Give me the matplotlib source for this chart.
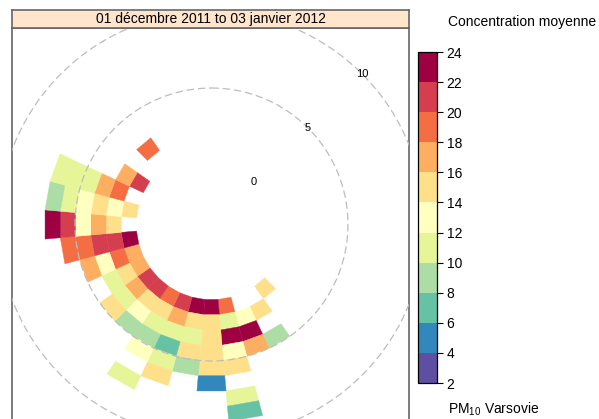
import numpy as np
import matplotlib
matplotlib.use("Agg")
import matplotlib.pyplot as plt
from matplotlib.collections import PolyCollection
from matplotlib.colors import ListedColormap, BoundaryNorm
from matplotlib.cm import ScalarMappable

plt.rcParams['font.family'] = ['Liberation Sans', 'DejaVu Sans']
plt.rcParams['mathtext.fontset'] = 'custom'
plt.rcParams['mathtext.rm'] = 'Liberation Sans'

# wind direction bin centre (deg), wind speed bin (lower edge, m/s), mean PM10
wd_bin = [140,
          150, 150,
          160, 160, 160,
          170, 170, 170, 170, 170, 170, 170,
          180, 180, 180, 180, 180, 180,
          190, 190, 190, 190, 190,
          200, 200, 200, 200, 200, 200,
          210, 210, 210, 210, 210, 210,
          220, 220, 220, 220,
          230, 230, 230, 230,
          240, 240, 240,
          250, 250, 250, 250,
          260, 260, 260, 260, 260,
          270, 270, 270, 270, 270,
          280, 280, 280, 280, 280, 280,
          290, 290, 290, 290, 290,
          300, 300,
          320]
ws_bin = [1,
          2, 4,
          2, 3, 4,
          1, 2, 3, 4, 5, 7, 8,
          1, 2, 3, 4, 5, 6,
          1, 2, 3, 4, 5,
          1, 2, 3, 4, 5, 6,
          1, 2, 3, 4, 5, 7,
          1, 2, 3, 4,
          1, 2, 3, 4,
          1, 2, 3,
          1, 2, 3, 4,
          1, 2, 3, 4, 5,
          2, 3, 4, 5, 6,
          1, 2, 3, 4, 5, 6,
          2, 3, 4, 5, 6,
          1, 2,
          2]
conc = [15,
        15, 9,
        13, 23, 17,
        19, 11, 23, 13, 15, 11, 7,
        23, 15, 15, 15, 15, 5,
        23, 15, 11, 15, 9,
        21, 17, 11, 7, 11, 15,
        19, 15, 11, 9, 13, 11,
        21, 15, 13, 9,
        21, 17, 11, 15,
        17, 15, 11,
        17, 19, 13, 17,
        23, 21, 21, 19, 19,
        15, 17, 13, 21, 23,
        15, 13, 15, 13, 11, 9,
        19, 17, 11, 11, 11,
        21, 17,
        19]

levels = np.arange(2, 25, 2)
spectral = ['#5E4FA2', '#3288BD', '#66C2A5', '#ABDDA4', '#E6F598', '#FFFFBF',
            '#FEE08B', '#FDAE61', '#F46D43', '#D53E4F', '#9E0142']
cmap = ListedColormap(spectral)
norm = BoundaryNorm(levels, cmap.N)

off = 3.92          # radial offset so the centre isn't squashed
grid_ws = [0, 5, 10]

fig = plt.figure(figsize=(5.99, 4.19), dpi=100)
W, H = 599, 419
px = 15.3           # pixels per m/s
cx, cy = 211.5, 224.5

ax = fig.add_axes([12 / W, (H - 424) / H, 397 / W, 396 / H])
ax.set_xlim((12 - cx) / px, (409 - cx) / px)
ax.set_ylim((cy - 424) / px, (cy - 28) / px)

polys = []
for d, s in zip(wd_bin, ws_bin):
    a1, a2 = np.radians(d - 5), np.radians(d + 5)
    r1, r2 = s + off, s + 1 + off
    polys.append([(r1 * np.sin(a1), r1 * np.cos(a1)), (r1 * np.sin(a2), r1 * np.cos(a2)),
                  (r2 * np.sin(a2), r2 * np.cos(a2)), (r2 * np.sin(a1), r2 * np.cos(a1))])
pc = PolyCollection(polys, array=np.array(conc, float), cmap=cmap, norm=norm,
                    edgecolors='face', linewidths=0.3, zorder=2)
ax.add_collection(pc)

theta = np.linspace(0, 2 * np.pi, 360)
for g in grid_ws[1:] + [15]:
    ax.plot((g + off) * np.sin(theta), (g + off) * np.cos(theta), color='#bdbdbd',
            lw=0.9, ls=(0, (6, 3)), zorder=3)
for g in grid_ws:
    r = g + off
    ax.text(r * np.sin(np.pi / 4), r * np.cos(np.pi / 4), str(g), fontsize=8,
            ha='center', va='center', zorder=4)

ax.set_xticks([])
ax.set_yticks([])
for sp in ax.spines.values():
    sp.set_color('#666666')
    sp.set_linewidth(1.2)

# strip with the date range
sax = fig.add_axes([12 / W, (H - 28) / H, 397 / W, 18 / H])
sax.set_facecolor('#FFE5CC')
sax.set_xticks([])
sax.set_yticks([])
for sp in sax.spines.values():
    sp.set_color('#666666')
    sp.set_linewidth(1.2)
sax.text(0.5, 0.5, '01 décembre 2011 to 03 janvier 2012', ha='center', va='center',
         fontsize=10, transform=sax.transAxes)

# colour key
cax = fig.add_axes([418 / W, (H - 383) / H, 19 / W, 331 / H])
cb = fig.colorbar(ScalarMappable(norm=norm, cmap=cmap), cax=cax, ticks=levels)
cb.outline.set_linewidth(0.9)
cb.outline.set_edgecolor('black')
cax.tick_params(length=4, width=0.8, labelsize=10, pad=3)
fig.text(448 / W, (H - 22) / H, 'Concentration moyenne', fontsize=10, va='center', ha='left')
fig.text(448 / W, (H - 401) / H, r'PM$_{\mathregular{10}}$ Varsovie', fontsize=10,
         va='top', ha='left')

fig.savefig('out.png', dpi=100)
